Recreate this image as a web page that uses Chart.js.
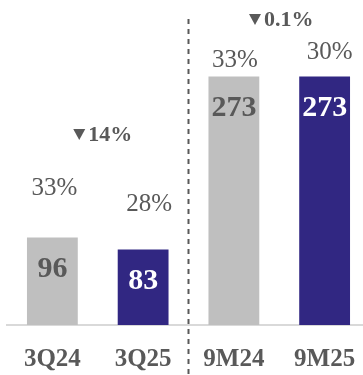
<!DOCTYPE html>
<html>
<head>
<meta charset="utf-8">
<script src="https://cdn.jsdelivr.net/npm/chart.js@4"></script>
<style>
    html, body { margin: 0; padding: 0; background: #fff; overflow: hidden; }
    #wrap { width: 370px; height: 375px; }
</style>
</head>
<body>
<div id="wrap"><canvas id="resultChart" width="370" height="375"></canvas></div>
<script>
// 분기 / 누적 실적
const categories = ['3Q24', '3Q25', '9M24', '9M25'];
const values = [96, 83, 273, 273];
const shares = [33, 28, 33, 30];      // 막대 위 비율 (%)
const changes = [-14, -0.1];          // 3Q, 9M 증감률 (%)

const GREY_TEXT = '#595959';
const SERIF = '"Liberation Serif", "Times New Roman", serif';

// 막대 라벨, 비율, 증감률, 구분선 그리기
const labelPlugin = {
    id: 'barLabels',
    afterDatasetsDraw(chart) {
        const ctx = chart.ctx;
        const meta = chart.getDatasetMeta(0);
        ctx.save();
        ctx.textAlign = 'center';
        ctx.textBaseline = 'middle';

        meta.data.forEach((bar, i) => {
            // 막대 안쪽 값
            ctx.font = 'bold 30px ' + SERIF;
            ctx.fillStyle = i % 2 === 0 ? GREY_TEXT : '#ffffff';
            ctx.fillText(values[i], bar.x, bar.y + 32);

            // 막대 위 비율
            const lift = [49, 45, 16, 24][i];
            const shift = [2, 6, 1, 5][i];
            ctx.font = '25px ' + SERIF;
            ctx.fillStyle = GREY_TEXT;
            ctx.fillText(shares[i] + '%', bar.x + shift, bar.y - lift);
        });

        // 증감률 (▼)
        const changeY = [135, 20];
        changes.forEach((c, k) => {
            const a = meta.data[k * 2], b = meta.data[k * 2 + 1];
            const cx = (a.x + b.x) / 2 + [5, 2][k];
            const text = Math.abs(c) + '%';
            ctx.font = 'bold 22px ' + SERIF;
            const tw = ctx.measureText(text).width;
            const triW = 12, gap = 3;
            const left = cx - (triW + gap + tw) / 2;
            const y = changeY[k];
            ctx.fillStyle = GREY_TEXT;
            ctx.beginPath();
            if (c < 0) {
                ctx.moveTo(left, y - 6);
                ctx.lineTo(left + triW, y - 6);
                ctx.lineTo(left + triW / 2, y + 5);
            } else {
                ctx.moveTo(left, y + 5);
                ctx.lineTo(left + triW, y + 5);
                ctx.lineTo(left + triW / 2, y - 6);
            }
            ctx.closePath();
            ctx.fill();
            ctx.textAlign = 'left';
            ctx.fillText(text, left + triW + gap, y);
            ctx.textAlign = 'center';
        });

        // 분기 / 누적 구분 점선
        const sepX = (meta.data[1].x + meta.data[2].x) / 2;
        ctx.strokeStyle = GREY_TEXT;
        ctx.lineWidth = 2;
        ctx.setLineDash([5, 5]);
        ctx.beginPath();
        ctx.moveTo(sepX, 19);
        ctx.lineTo(sepX, chart.height);
        ctx.stroke();
        ctx.restore();
    }
};

const ctx = document.getElementById('resultChart').getContext('2d');
const resultChart = new Chart(ctx, {
    type: 'bar',
    data: {
        labels: categories,
        datasets: [{
            data: values,
            backgroundColor: ['#bfbfbf', '#312782', '#bfbfbf', '#312782'],
            borderWidth: 0,
            categoryPercentage: 1,
            barPercentage: 0.56
        }]
    },
    options: {
        responsive: false,
        devicePixelRatio: 1,
        animation: false,
        layout: {
            padding: { left: 7, right: 0, top: 0, bottom: 0 }
        },
        scales: {
            x: {
                // 눈금선은 투명, 눈금 길이로 라벨 간격만 확보
                grid: {
                    display: true,
                    drawOnChartArea: false,
                    drawTicks: true,
                    tickLength: 20,
                    color: 'rgba(0,0,0,0)'
                },
                border: { display: true, color: '#d9d9d9', width: 2 },
                ticks: {
                    color: GREY_TEXT,
                    padding: 0,
                    font: { family: SERIF, size: 25, weight: 'bold' }
                }
            },
            y: {
                display: false,
                min: 0,
                max: 357
            }
        },
        plugins: {
            legend: { display: false },
            tooltip: { enabled: false }
        }
    },
    plugins: [labelPlugin]
});
</script>
</body>
</html>
